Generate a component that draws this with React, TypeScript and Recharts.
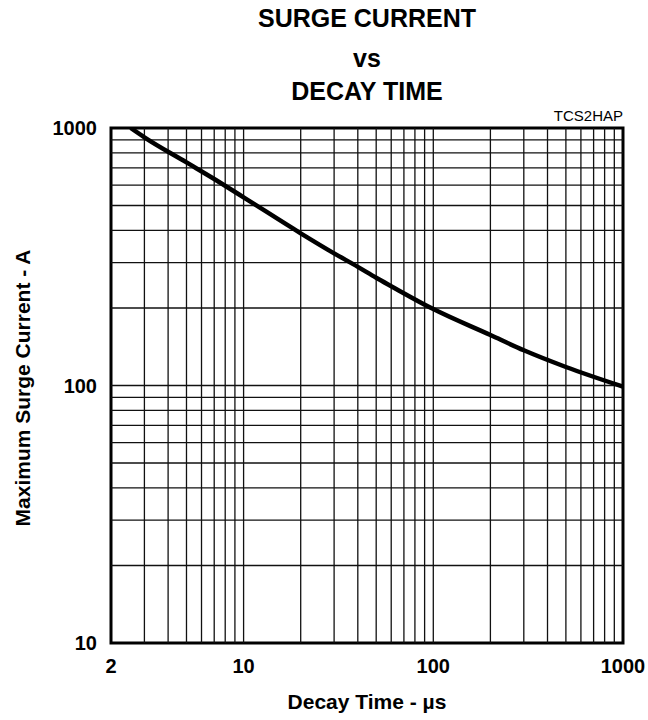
import { LineChart, Line, XAxis, YAxis, ReferenceLine, ReferenceArea, Label } from 'recharts'

// decay time (µs) vs maximum surge current (A)
const decayTime = [2.54, 3, 5, 7, 10, 20, 30, 40, 50, 60, 100, 200, 300, 500, 1000]
const surgeCurrent = [1000, 920, 735, 634, 538, 390, 326, 289, 262, 243, 198, 157, 137, 118, 99]

const xTicks = [2, 10, 100, 1000]
const yTicks = [10, 100, 1000]

// minor log grid
const xGrid = [3, 4, 5, 6, 7, 8, 9, 10, 20, 30, 40, 50, 60, 70, 80, 90, 100, 200, 300, 400, 500, 600, 700, 800, 900]
const yGrid = [20, 30, 40, 50, 60, 70, 80, 90, 100, 200, 300, 400, 500, 600, 700, 800, 900]

const FONT = '"Liberation Sans", Arial, Helvetica, sans-serif'

const data = decayTime.map((t, i) => ({ t, amps: surgeCurrent[i] }))

export default function App() {
    return (
        <div style={{ position: 'absolute', left: 0, top: 0, width: 648, height: 720, background: '#fff', fontFamily: FONT }}>
            <LineChart width={648} height={720} data={data} margin={{ top: 128, right: 25, bottom: 0, left: 0 }}>
                <XAxis
                    dataKey="t"
                    type="number"
                    scale="log"
                    domain={[2, 1000]}
                    ticks={xTicks}
                    allowDataOverflow
                    height={77}
                    tickSize={0}
                    tickMargin={16}
                    axisLine={false}
                    tick={{ fontSize: 20, fontWeight: 'bold', fill: '#000', fontFamily: FONT }}
                >
                    <Label
                        value="Decay Time - µs"
                        position="insideBottom"
                        offset={11}
                        style={{ fontSize: 21, fontWeight: 'bold', fill: '#000', fontFamily: FONT }}
                    />
                </XAxis>
                <YAxis
                    type="number"
                    scale="log"
                    domain={[10, 1000]}
                    ticks={yTicks}
                    allowDataOverflow
                    width={111}
                    tickSize={0}
                    tickMargin={14}
                    axisLine={false}
                    tick={{ fontSize: 20, fontWeight: 'bold', fill: '#000', fontFamily: FONT }}
                    label={{
                        content: () => (
                            <text
                                x={30}
                                y={388}
                                transform="rotate(-90 30 388)"
                                textAnchor="middle"
                                style={{ fontSize: 21, fontWeight: 'bold', fill: '#000', fontFamily: FONT }}
                            >
                                Maximum Surge Current - A
                            </text>
                        ),
                    }}
                />
                {xGrid.map((v) => (
                    <ReferenceLine key={`vx-${v}`} x={v} stroke="#111" strokeWidth={1.3} />
                ))}
                {yGrid.map((v) => (
                    <ReferenceLine key={`hy-${v}`} y={v} stroke="#111" strokeWidth={1.3} />
                ))}
                <ReferenceArea x1={2} x2={1000} y1={10} y2={1000} fill="none" fillOpacity={0} stroke="#000" strokeWidth={3} />
                <Line
                    type="monotone"
                    dataKey="amps"
                    stroke="#000"
                    strokeWidth={4.5}
                    dot={false}
                    isAnimationActive={false}
                />
            </LineChart>
            <svg width={648} height={130} style={{ position: 'absolute', left: 0, top: 0, pointerEvents: 'none' }}>
                <g style={{ fontFamily: FONT, fontWeight: 'bold', fill: '#000' }} textAnchor="middle">
                    <text x={367} y={27} fontSize={25}>SURGE CURRENT</text>
                    <text x={367} y={67} fontSize={25}>vs</text>
                    <text x={367} y={100} fontSize={25}>DECAY TIME</text>
                </g>
                <text x={623} y={121} fontSize={15} textAnchor="end" style={{ fontFamily: FONT, fill: '#000' }}>
                    TCS2HAP
                </text>
            </svg>
        </div>
    )
}
